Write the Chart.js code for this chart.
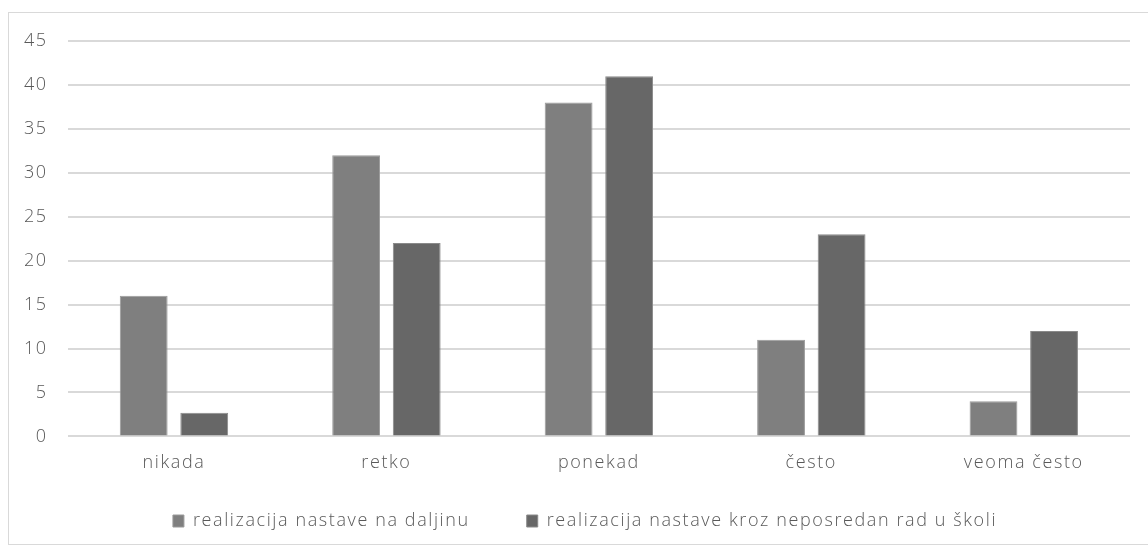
<!DOCTYPE html>
<html>
<head>
<meta charset="utf-8">
<script src="https://cdn.jsdelivr.net/npm/chart.js@4"></script>
<style>
html,body{margin:0;padding:0;background:#fff;}
#wrap{position:absolute;left:0;top:0;width:1148px;height:553px;}
#frame{position:absolute;left:8px;top:12px;width:1145px;height:533px;border:1px solid #d9d9d9;box-sizing:border-box;}
</style>
</head>
<body>
<div id="frame"></div>
<div id="wrap"><canvas id="c"></canvas></div>
<script>
const categories = ["nikada", "retko", "ponekad", "često", "veoma često"];
const seriesNames = ["realizacija nastave na daljinu", "realizacija nastave kroz neposredan rad u školi"];
const distanceValues = [16, 32, 38, 11, 4];
const schoolValues = [2.7, 22, 41, 23, 12];
const yTicks = [0, 5, 10, 15, 20, 25, 30, 35, 40, 45];

const FONT = "'Open Sans', Lato, sans-serif";
const TEXT = "#595959";
const FONTOBJ = { family: FONT, size: 18, weight: 300 };
const ITEM_GAP = 57;      // horizontal gap between legend items
const LEGEND_VPAD = 22;   // effective vertical legend padding
const LEGEND_XSHIFT = 18;

const spacing = {
  id: 'spacing',
  beforeLayout(chart) { chart.ctx.letterSpacing = '1.6px'; },
  beforeDraw(chart) { chart.ctx.letterSpacing = '1.6px'; },
  afterInit(chart) {
    const lg = chart.legend;
    if (!lg || lg._patched) return;
    lg._patched = true;
    const origFit = lg.fit.bind(lg);
    lg.fit = function () { origFit(); this.height -= (ITEM_GAP - LEGEND_VPAD); };
    const origDraw = lg._draw.bind(lg);
    lg._draw = function () {
      const t = this.top, l = this.left, r = this.right;
      this.top = t - (ITEM_GAP - LEGEND_VPAD);
      this.left = l + LEGEND_XSHIFT; this.right = r + LEGEND_XSHIFT;
      origDraw();
      this.top = t; this.left = l; this.right = r;
    };
  }
};

new Chart(document.getElementById('c'), {
  type: 'bar',
  data: {
    labels: categories,
    datasets: [
      { label: seriesNames[0], data: distanceValues, backgroundColor: '#7f7f7f', borderColor: '#9a9a9a', borderWidth: 1, categoryPercentage: 0.57, barPercentage: 0.79 },
      { label: seriesNames[1], data: schoolValues, backgroundColor: '#676767', borderColor: '#8a8a8a', borderWidth: 1, categoryPercentage: 0.57, barPercentage: 0.79 }
    ]
  },
  plugins: [spacing],
  options: {
    responsive: true,
    maintainAspectRatio: false,
    animation: false,
    layout: { padding: { left: 4, right: 18, top: 41, bottom: 13 } },
    plugins: {
      legend: {
        position: 'bottom',
        labels: { font: FONTOBJ, color: TEXT, boxWidth: 11, boxHeight: 12, padding: ITEM_GAP, useBorderRadius: false }
      },
      tooltip: { enabled: false }
    },
    scales: {
      x: {
        grid: { display: false, drawTicks: false },
        border: { display: false },
        ticks: { font: FONTOBJ, color: TEXT, padding: 16 }
      },
      y: {
        min: 0, max: 45,
        afterBuildTicks: (axis) => { axis.ticks = yTicks.map(v => ({ value: v })); },
        grid: { color: '#d9d9d9', lineWidth: 2, drawTicks: false },
        border: { display: false },
        ticks: { font: FONTOBJ, color: TEXT, padding: 20 }
      }
    }
  }
});
</script>
</body>
</html>
